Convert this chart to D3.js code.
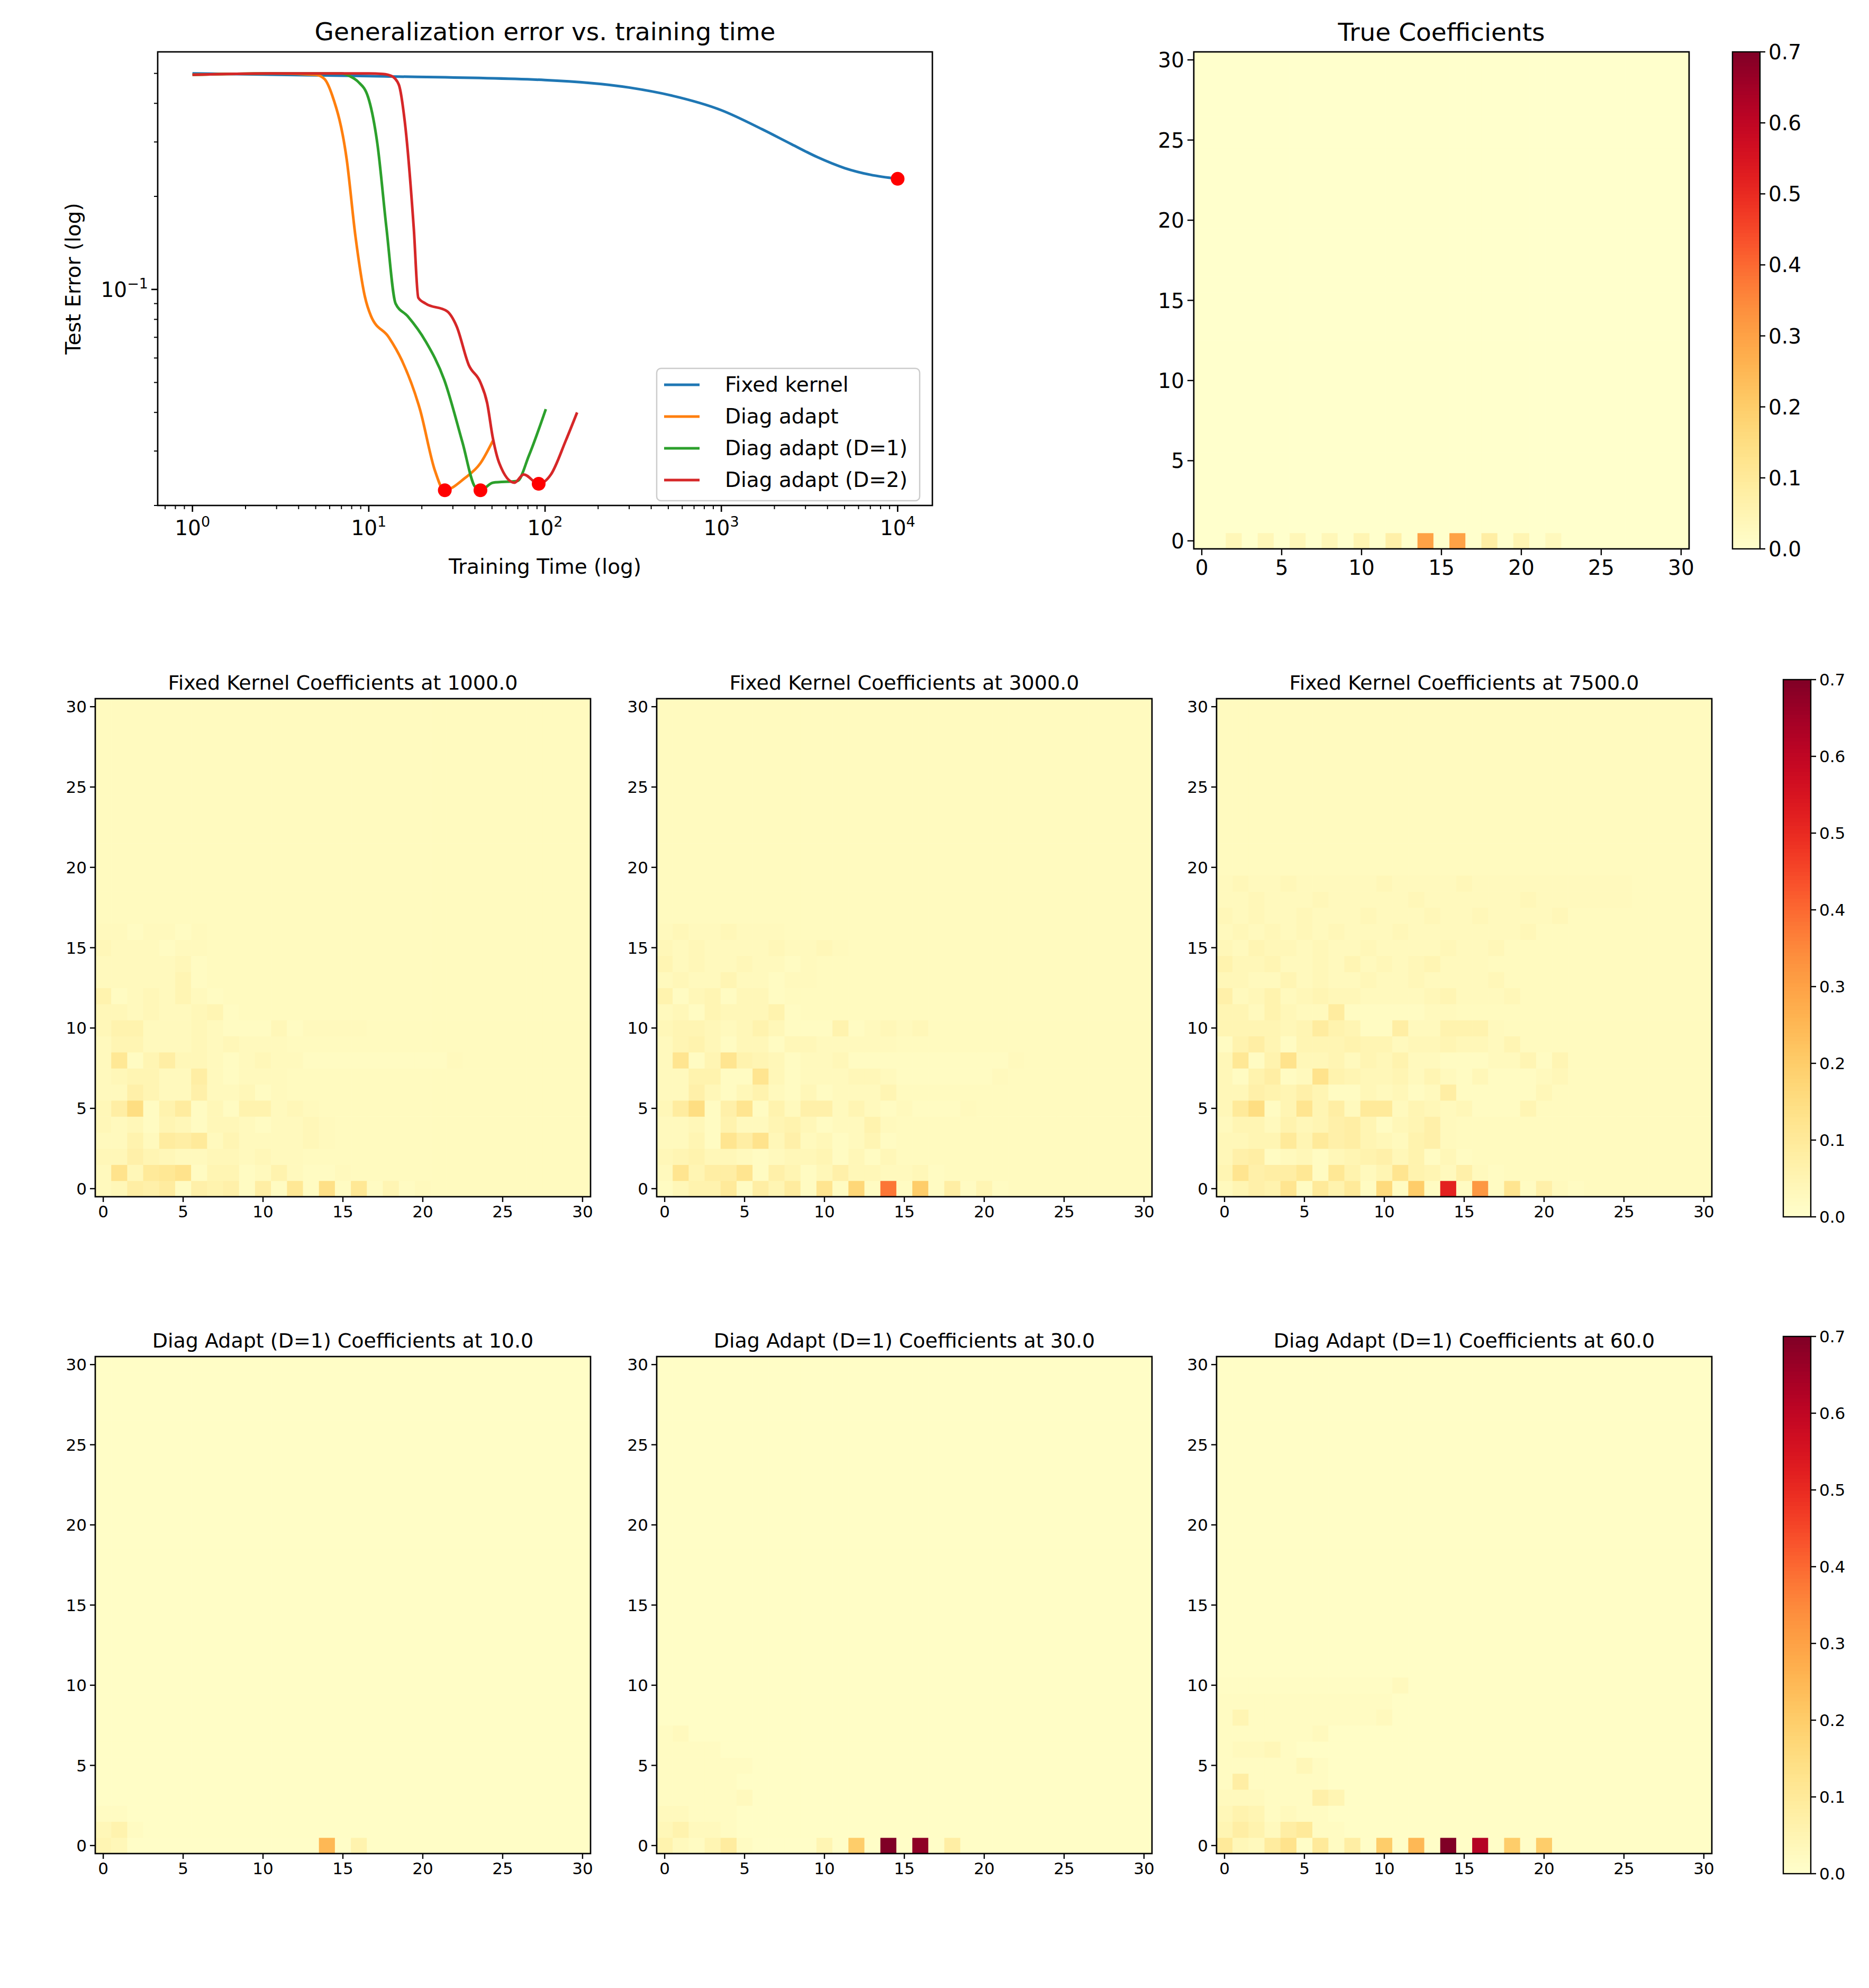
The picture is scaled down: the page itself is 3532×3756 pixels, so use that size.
<!DOCTYPE html>
<html><head><meta charset="utf-8">
<script src="https://cdn.jsdelivr.net/npm/d3@7"></script>
<style>body{margin:0;background:#fff}text{font-family:"DejaVu Sans",sans-serif}</style>
</head><body>
<svg id="c" width="3532" height="3756"></svg>
<script>
// ---------- line chart data ----------
const seriesNames = ["Fixed kernel","Diag adapt","Diag adapt (D=1)","Diag adapt (D=2)"];
const seriesColors = ["#1f77b4","#ff7f0e","#2ca02c","#d62728"];
const fixedT = [1,10,100,300,512,1000,1700,2500,3500,5000,7000,10000];
const fixedE = [0.50,0.49,0.476,0.45,0.425,0.38,0.33,0.295,0.268,0.247,0.235,0.228];
const diagT = [1,3,5,5.6,6.2,7.5,8.4,9.5,10.3,13,15.4,19.5,23.8,26.8,35,43,50.6];
const diagE = [0.495,0.5,0.495,0.48,0.425,0.263,0.149,0.095,0.082,0.070,0.059,0.041,0.0258,0.0224,0.0245,0.0274,0.0324];
const d1T = [1,3,7,7.8,8.7,9.9,11.2,12.6,14.2,16.6,21,26.8,34,40,43,50.6,69.7,81,101];
const d1E = [0.495,0.5,0.5,0.49,0.47,0.42,0.295,0.158,0.090,0.082,0.068,0.051,0.032,0.023,0.0224,0.0237,0.024,0.029,0.041];
const d2T = [1,3,10,12,13.5,14.8,16,18,19.1,21,27.8,31.5,36.9,43,46.9,50.6,55,67,75.6,92,108,131,152];
const d2E = [0.495,0.5,0.5,0.498,0.49,0.46,0.35,0.158,0.094,0.090,0.085,0.076,0.057,0.050,0.043,0.033,0.0274,0.0237,0.0252,0.0235,0.0252,0.0324,0.040];
const minT = [10000,27,43,92];
const minE = [0.228,0.0224,0.0224,0.0235];
const xTickExp = [0,1,2,3,4];

// ---------- heatmap data (rows from y=0 upward, columns from x=0) ----------
const colorTicks = [0,0.1,0.2,0.3,0.4,0.5,0.6,0.7];
const heatTicks = [0,5,10,15,20,25,30];
const trueRows = [
 [0,0,0.04,0,0.04,0,0.04,0,0.04,0,0.05,0,0.07,0,0.3,0,0.3,0,0.08,0,0.05,0,0.03]
];
const fixed1000Rows = [
 [.03,.04,.08,.07,.09,.02,.07,.06,.07,.02,.08,.02,.11,.02,.14,.02,.11,.02,.05,.02,.03],
 [.03,.13,.04,.10,.11,.13,.02,.05,.05,.02,.03,.06,.03,.02,.02,.03],
 [.04,.04,.07,.05,.04,.03,.03,.04,.04,.03,.04,.03,.03],
 [.03,.03,.06,.03,.09,.08,.10,.03,.05,.03,.03,.03,.03,.04,.03],
 [.04,.03,.04,.02,.05,.04,.02,.04,.04,.03,.02,.03,.03,.04,.03],
 [.04,.08,.15,.02,.06,.09,.02,.04,.02,.06,.06,.03,.04,.03],
 [.03,.03,.07,.05,.03,.03,.07,.03,.03,.04,.02,.03],
 [.03,.04,.05,.05,.03,.03,.08,.03,.02,.03,.03,.03],
 [.03,.11,.02,.05,.08,.04,.04,.03,.02,.03,.04,.03,.03,.02,.02,.02,.02,.02,.02,.02,.02,.02,.03],
 [.03,.05,.05,.03,.03,.03,.04,.03,.04,.03,.03,.03],
 [.04,.06,.06,.03,.03,.03,.04,.03,.02,.02,.02,.04,.02,.03,.03,.03,.03],
 [.04,.04,.03,.04,.03,.03,.04,.05,.02],
 [.06,.02,.03,.04,.03,.05,.03,.02],
 [.03,.03,.03,.03,.03,.05,.02],
 [.03,.03,.03,.03,.03,.04,.02],
 [.04,.03,.03,.03,.02,.03,.03],
 [.03,.03,.02,.03,.03,.02,.03]
];
const fixed3000Rows = [
 [.02,.04,.06,.06,.10,.02,.08,.05,.09,.02,.12,.02,.17,.02,.38,.02,.2,.02,.08,.02,.05,.02],
 [.03,.12,.05,.08,.08,.12,.02,.07,.05,.02,.04,.07,.04,.04,.03,.03,.04,.02],
 [.04,.05,.06,.04,.04,.03,.02,.03,.04,.04,.05,.02,.04,.02,.04],
 [.03,.03,.05,.02,.12,.08,.13,.04,.07,.03,.04,.02,.03,.05,.02],
 [.03,.03,.04,.02,.06,.03,.03,.05,.06,.04,.02,.03,.03,.06,.03],
 [.04,.09,.15,.02,.07,.12,.02,.06,.03,.07,.07,.03,.05,.03,.02,.03,.02,.02,.02,.03],
 [.03,.03,.07,.04,.02,.04,.06,.03,.02,.04,.02,.03,.03,.03,.05],
 [.03,.03,.06,.06,.02,.02,.12,.04,.02,.03,.03,.03,.04,.04,.03,.02,.02,.02,.02,.02,.02,.03],
 [.03,.12,.02,.05,.12,.06,.05,.04,.02,.03,.03,.04,.02,.02,.02,.02,.02,.02,.02,.02,.02,.02,.03],
 [.03,.05,.06,.04,.02,.04,.04,.02,.04,.04,.03,.03,.03,.03,.03],
 [.04,.05,.05,.04,.03,.04,.06,.04,.02,.02,.02,.06,.02,.03,.04,.03,.04],
 [.03,.04,.02,.05,.04,.04,.04,.06,.02],
 [.06,.02,.04,.05,.02,.04,.04,.02],
 [.03,.04,.03,.03,.05,.03,.03,.02,.03,.03],
 [.05,.03,.04,.03,.03,.04,.03,.03,.02,.03],
 [.04,.03,.04,.03,.03,.03,.03,.04,.03,.03,.04,.03],
 [.03,.04,.03,.03,.04,.03,.03,.03]
];
const fixed7500Rows = [
 [.03,.05,.07,.06,.12,.02,.10,.06,.10,.02,.16,.02,.2,.02,.52,.02,.32,.02,.12,.02,.07,.03,.02],
 [.05,.12,.07,.08,.08,.11,.02,.11,.06,.03,.05,.12,.06,.05,.03,.07,.03,.02],
 [.04,.07,.08,.02,.03,.04,.02,.04,.05,.06,.07,.04,.06,.02,.04,.02],
 [.04,.04,.05,.05,.10,.05,.10,.07,.08,.05,.04,.03,.06,.07,.03],
 [.03,.05,.05,.03,.06,.04,.05,.07,.08,.05,.02,.04,.05,.07,.03],
 [.04,.10,.15,.02,.05,.12,.05,.08,.03,.10,.10,.03,.05,.04,.03,.04,.02,.02,.02,.05],
 [.04,.04,.07,.06,.05,.07,.05,.02,.02,.04,.03,.04,.02,.03,.08,.02,.02,.02,.02,.02,.04],
 [.04,.02,.06,.08,.02,.03,.13,.06,.05,.04,.04,.05,.03,.05,.03,.02,.04,.02,.02,.02,.03,.04],
 [.04,.11,.02,.06,.13,.04,.04,.05,.03,.05,.04,.06,.03,.03,.02,.02,.02,.03,.03,.05,.02,.05],
 [.02,.06,.08,.05,.02,.05,.05,.05,.06,.05,.05,.03,.04,.04,.05,.04,.04,.03,.05],
 [.05,.05,.05,.05,.04,.05,.09,.06,.05,.02,.02,.08,.03,.03,.06,.06,.06,.03],
 [.05,.05,.03,.06,.04,.03,.03,.09,.02,.02,.02,.02,.02,.03,.03],
 [.07,.03,.04,.06,.03,.04,.05,.04,.04,.03,.03,.03,.03,.04,.05,.03,.03,.03,.04],
 [.04,.04,.03,.03,.05,.03,.04,.03,.03,.04,.03,.03,.04,.03,.03,.03,.03,.04],
 [.06,.04,.04,.05,.03,.03,.04,.03,.05,.03,.04,.03,.04,.05,.03,.03,.03],
 [.04,.03,.05,.04,.04,.03,.04,.03,.03,.04,.03,.03,.03,.03,.04,.03,.03,.04],
 [.03,.04,.03,.04,.03,.04,.03,.04,.03,.03,.03,.04,.03,.03,.03,.03,.03,.03,.03,.04],
 [.04,.03,.04,.03,.03,.04,.03,.03,.03,.04,.03,.03,.03,.04,.03,.03,.04,.03,.03,.03,.03,.04],
 [.03,.03,.04,.03,.03,.03,.04,.03,.03,.03,.03,.03,.04,.03,.03,.03,.03,.03,.03,.04,.03,.03,.03,.03,.03,.03],
 [.03,.04,.03,.03,.04,.03,.03,.03,.03,.03,.04,.03,.03,.03,.03,.04,.03,.03,.03,.03,.03,.03,.03,.03,.03,.03]
];
const diag10Rows = [
 [.05,.04,.01,.01,.01,.01,.01,.01,.01,.01,.01,.01,.01,.01,.25,.01,.06],
 [.04,.06,.02],
 [.02,.02]
];
const diag30Rows = [
 [.06,.03,.02,.05,.09,.02,.01,.01,.01,.01,.05,.01,.2,.01,.7,.01,.68,.01,.08],
 [.04,.06,.03,.03,.02],
 [.03,.03,.02,.02,.02],
 [.02,.02,.02,.02,.02,.03],
 [.02,.02,.02,.02,.02],
 [.02,.02,.02,.02,.02,.02],
 [.02,.02,.02,.02],
 [.02,.03]
];
const diag60Rows = [
 [.10,.04,.03,.09,.13,.01,.10,.02,.08,.01,.2,.01,.25,.01,.7,.01,.62,.01,.2,.01,.2],
 [.05,.08,.06,.03,.08,.10,.02,.02],
 [.04,.06,.05,.02,.03,.02,.02],
 [.03,.03,.03,.02,.02,.02,.07,.05],
 [.02,.08,.02,.02,.02,.02,.02],
 [.02,.02,.02,.02,.02,.04,.02],
 [.02,.03,.03,.04,.02],
 [.02,.02,.02,.02,.02,.02,.03],
 [.02,.05,.02,.02,.02,.02,.02,.02,.02,.02,.03],
 [.02,.02,.02,.02,.02,.02,.02,.02,.02,.02,.02],
 [.015,.015,.015,.015,.015,.015,.015,.015,.015,.015,.015,.03]
];
const heatTitles = ["True Coefficients",
 "Fixed Kernel Coefficients at 1000.0","Fixed Kernel Coefficients at 3000.0","Fixed Kernel Coefficients at 7500.0",
 "Diag Adapt (D=1) Coefficients at 10.0","Diag Adapt (D=1) Coefficients at 30.0","Diag Adapt (D=1) Coefficients at 60.0"];

// ---------- drawing ----------
const svg = d3.select("#c");
const color = d3.scaleSequential(d3.interpolateYlOrRd).domain([0,0.7]);

// line chart
(function(){
  const L=298,R=1762,T=98,B=955;
  const x=d3.scaleLog().domain([0.635,15740]).range([L,R]);
  const y=d3.scaleLog().domain([0.02,0.587]).range([B,T]);
  const g=svg.append("g");
  const line=d3.line().x(d=>x(d[0])).y(d=>y(d[1])).curve(d3.curveMonotoneX);
  const all=[[fixedT,fixedE],[diagT,diagE],[d1T,d1E],[d2T,d2E]];
  svg.append("clipPath").attr("id","lc").append("rect").attr("x",L).attr("y",T).attr("width",R-L).attr("height",B-T);
  all.forEach((s,i)=>{
    g.append("path").attr("clip-path","url(#lc)").datum(s[0].map((t,j)=>[t,s[1][j]])).attr("d",line)
     .attr("fill","none").attr("stroke",seriesColors[i]).attr("stroke-width",5);
  });
  g.selectAll("circle.m").data(minT.map((t,i)=>[t,minE[i]])).enter().append("circle")
   .attr("cx",d=>x(d[0])).attr("cy",d=>y(d[1])).attr("r",13).attr("fill","red");
  g.append("rect").attr("x",L).attr("y",T).attr("width",R-L).attr("height",B-T).attr("fill","none").attr("stroke","#000").attr("stroke-width",2.7);
  const xa=g.append("g").attr("transform",`translate(0,${B})`);
  const minors=[];
  for(let e=-1;e<=4;e++) for(let k=2;k<=9;k++){const v=k*Math.pow(10,e); if(v>=0.635&&v<=15740) minors.push(v);}
  xa.selectAll("line.mi").data(minors).enter().append("line").attr("x1",d=>x(d)).attr("x2",d=>x(d)).attr("y1",0).attr("y2",7).attr("stroke","#000").attr("stroke-width",2);
  xTickExp.forEach(e=>{
    const v=Math.pow(10,e);
    xa.append("line").attr("x1",x(v)).attr("x2",x(v)).attr("y1",0).attr("y2",12).attr("stroke","#000").attr("stroke-width",2.7);
    const t=xa.append("text").attr("x",x(v)).attr("y",56).attr("text-anchor","middle").attr("font-size",39);
    t.append("tspan").text("10"); t.append("tspan").attr("font-size",27).attr("dy",-16).text(String(e));
  });
  const ya=g.append("g");
  const yMinors=[];
  for(let e=-2;e<=-1;e++) for(let k=2;k<=9;k++){const v=k*Math.pow(10,e); if(v>=0.02&&v<=0.587) yMinors.push(v);}
  ya.selectAll("line").data(yMinors).enter().append("line").attr("x1",L).attr("x2",L-7).attr("y1",d=>y(d)).attr("y2",d=>y(d)).attr("stroke","#000").attr("stroke-width",2);
  ya.append("line").attr("x1",L).attr("x2",L-12).attr("y1",y(0.1)).attr("y2",y(0.1)).attr("stroke","#000").attr("stroke-width",2.7);
  const yt=ya.append("text").attr("x",L-18).attr("y",y(0.1)+14).attr("text-anchor","end").attr("font-size",39);
  yt.append("tspan").text("10"); yt.append("tspan").attr("font-size",27).attr("dy",-16).text("−1");
  g.append("text").attr("x",(L+R)/2).attr("y",1084).attr("text-anchor","middle").attr("font-size",39).text("Training Time (log)");
  g.append("text").attr("transform",`translate(152,${(T+B)/2}) rotate(-90)`).attr("text-anchor","middle").attr("font-size",39).text("Test Error (log)");
  g.append("text").attr("x",(L+R)/2).attr("y",T-22).attr("text-anchor","middle").attr("font-size",47).text("Generalization error vs. training time");
  const lg=g.append("g");
  lg.append("rect").attr("x",1241).attr("y",696).attr("width",497).attr("height",250).attr("rx",8).attr("fill","#fff").attr("fill-opacity",0.8).attr("stroke","#ccc").attr("stroke-width",2.5);
  seriesNames.forEach((n,i)=>{
    const yy=727+i*60;
    lg.append("line").attr("x1",1255).attr("x2",1322).attr("y1",yy).attr("y2",yy).attr("stroke",seriesColors[i]).attr("stroke-width",5);
    lg.append("text").attr("x",1370).attr("y",yy+13).attr("font-size",39).text(n);
  });
})();

function heatmap(rows, bg, L, T, W, H, title, titleSize, tickSize){
  const g=svg.append("g");
  const x=d3.scaleLinear().domain([-0.5,30.5]).range([L,L+W]);
  const y=d3.scaleLinear().domain([-0.5,30.5]).range([T+H,T]);
  const cells=[];
  for(let r=0;r<31;r++) for(let c=0;c<31;c++){
    const v=(rows[r]&&rows[r][c]!==undefined)?rows[r][c]:bg;
    cells.push({r,c,v});
  }
  g.selectAll("rect.cell").data(cells).enter().append("rect")
   .attr("x",d=>x(d.c-0.5)).attr("y",d=>y(d.r+0.5))
   .attr("width",x(1)-x(0)+0.6).attr("height",y(0)-y(1)+0.6)
   .attr("fill",d=>color(d.v));
  g.append("rect").attr("x",L).attr("y",T).attr("width",W).attr("height",H).attr("fill","none").attr("stroke","#000").attr("stroke-width",2.7);
  const tl=tickSize>34?12:10;
  heatTicks.forEach(t=>{
    g.append("line").attr("x1",x(t)).attr("x2",x(t)).attr("y1",T+H).attr("y2",T+H+tl).attr("stroke","#000").attr("stroke-width",2.4);
    g.append("text").attr("x",x(t)).attr("y",T+H+tl+tickSize*0.95).attr("text-anchor","middle").attr("font-size",tickSize).text(t);
    g.append("line").attr("x1",L).attr("x2",L-tl).attr("y1",y(t)).attr("y2",y(t)).attr("stroke","#000").attr("stroke-width",2.4);
    g.append("text").attr("x",L-tl-6).attr("y",y(t)+tickSize*0.36).attr("text-anchor","end").attr("font-size",tickSize).text(t);
  });
  g.append("text").attr("x",L+W/2).attr("y",T-(titleSize*0.45)).attr("text-anchor","middle").attr("font-size",titleSize).text(title);
}
function colorbar(L,T,W,H,tickSize){
  const g=svg.append("g");
  const s=d3.scaleLinear().domain([0,0.7]).range([T+H,T]);
  const n=140;
  const steps=d3.range(n).map(i=>i*0.7/n);
  g.selectAll("rect").data(steps).enter().append("rect").attr("x",L).attr("width",W)
   .attr("y",d=>s(d+0.7/n)).attr("height",H/n+0.8).attr("fill",d=>color(d+0.35/n));
  g.append("rect").attr("x",L).attr("y",T).attr("width",W).attr("height",H).attr("fill","none").attr("stroke","#000").attr("stroke-width",2.4);
  colorTicks.forEach(t=>{
    g.append("line").attr("x1",L+W).attr("x2",L+W+10).attr("y1",s(t)).attr("y2",s(t)).attr("stroke","#000").attr("stroke-width",2.4);
    g.append("text").attr("x",L+W+16).attr("y",s(t)+tickSize*0.36).attr("font-size",tickSize).text(t.toFixed(1));
  });
}
heatmap(trueRows,0,2256,98,936,939,heatTitles[0],47,39);
colorbar(3274,98,52,939,39);
const colsX=[180,1241,2299];
[fixed1000Rows,fixed3000Rows,fixed7500Rows].forEach((r,i)=>heatmap(r,0.025,colsX[i],1320,936,941,heatTitles[1+i],38,31));
colorbar(3370,1284,52,1015,31);
[diag10Rows,diag30Rows,diag60Rows].forEach((r,i)=>heatmap(r,0.012,colsX[i],2563,936,939,heatTitles[4+i],38,31));
colorbar(3370,2525,52,1015,31);
</script>
</body></html>
